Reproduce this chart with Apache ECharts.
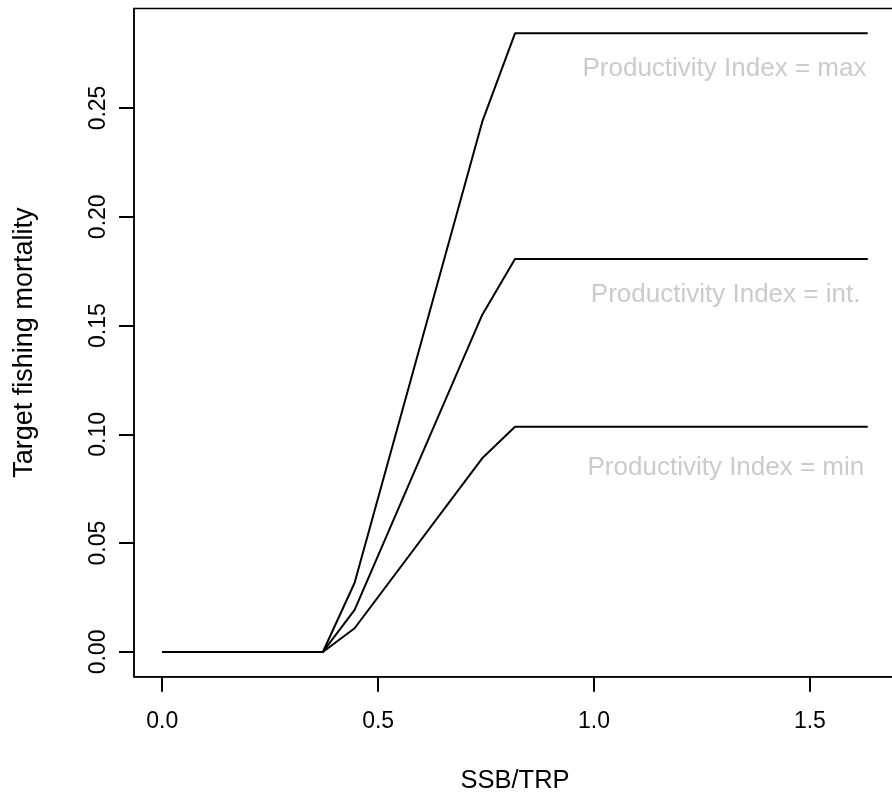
<!DOCTYPE html>
<html lang="en">
<head>
    <meta charset="UTF-8">
    <title>Target fishing mortality</title>
    <style>
        html, body { margin: 0; padding: 0; background: #fff; overflow: hidden; }
        #main { width: 896px; height: 801px; }
    </style>
    <script src="https://cdn.jsdelivr.net/npm/echarts@6/dist/echarts.min.js"></script>
</head>
<body>
<div id="main"></div>
<script>
    // SSB/TRP break points shared by the three curves
    var ssb = [0, 0.372, 0.4456, 0.741, 0.817, 1.634];
    // target F for each productivity index
    var fMax = [0, 0, 0.0318, 0.2436, 0.2843, 0.2843];
    var fInt = [0, 0, 0.0193, 0.1549, 0.1806, 0.1806];
    var fMin = [0, 0, 0.0109, 0.0890, 0.1035, 0.1035];

    var xTicks = [0, 0.5, 1.0, 1.5];
    var yTicks = [0, 0.05, 0.10, 0.15, 0.20, 0.25];

    // annotation text and where it sits (data units, right aligned)
    var noteText = ['Productivity Index = max', 'Productivity Index = int.', 'Productivity Index = min'];
    var noteX = [1.632, 1.618, 1.627];
    var noteY = [0.2679, 0.1640, 0.0844];

    function pairs(xs, ys) {
        var out = [];
        for (var i = 0; i < xs.length; i++) out.push([xs[i], ys[i]]);
        return out;
    }

    var font = 'Liberation Sans, Arial, Helvetica, sans-serif';
    var myChart = echarts.init(document.getElementById('main'));

    var lineStyle = { color: '#000', width: 2 };
    var curves = [fMax, fInt, fMin].map(function (ys) {
        return {
            type: 'line',
            data: pairs(ssb, ys),
            symbol: 'none',
            lineStyle: lineStyle,
            silent: true
        };
    });

    var notes = {
        type: 'scatter',
        symbolSize: 1,
        itemStyle: { color: 'rgba(0,0,0,0)' },
        silent: true,
        data: noteText.map(function (t, i) { return { value: [noteX[i], noteY[i]], name: t }; }),
        label: {
            show: true,
            position: [0, 0],
            align: 'right',
            verticalAlign: 'middle',
            formatter: function (p) { return p.name; },
            color: '#bebebe',
            fontFamily: font,
            fontSize: 26
        }
    };

    var axisBlack = { color: '#000', width: 1.5 };
    var tickStyle = { color: '#000', width: 2 };

    var option = {
        animation: false,
        grid: {
            left: 134,
            right: 0,
            top: 8.6,
            bottom: 124.3,
            show: true,
            borderColor: '#000',
            borderWidth: 1.5,
            backgroundColor: '#fff'
        },
        xAxis: {
            type: 'value',
            min: -0.06536,
            max: 1.69936,
            name: 'SSB/TRP',
            nameLocation: 'middle',
            nameGap: 91,
            nameTextStyle: { color: '#000', fontFamily: font, fontSize: 25.5 },
            splitLine: { show: false },
            axisLine: { show: true, onZero: false, lineStyle: axisBlack },
            axisTick: {
                show: true,
                inside: false,
                length: 15,
                customValues: xTicks,
                lineStyle: tickStyle
            },
            axisLabel: {
                customValues: xTicks,
                margin: 33,
                color: '#000',
                fontFamily: font,
                fontSize: 23,
                formatter: function (v) { return v.toFixed(1); }
            }
        },
        yAxis: {
            type: 'value',
            min: -0.01137,
            max: 0.29567,
            name: 'Target fishing mortality',
            nameLocation: 'middle',
            nameGap: 96,
            nameRotate: 90,
            nameTextStyle: { color: '#000', fontFamily: font, fontSize: 27 },
            splitLine: { show: false },
            axisLine: { show: true, onZero: false, lineStyle: axisBlack },
            axisTick: {
                show: true,
                inside: false,
                length: 15,
                customValues: yTicks,
                lineStyle: tickStyle
            },
            axisLabel: {
                customValues: yTicks,
                rotate: 90,
                margin: 24,
                color: '#000',
                fontFamily: font,
                fontSize: 23,
                formatter: function (v) { return v.toFixed(2); }
            }
        },
        series: curves.concat([notes])
    };

    myChart.setOption(option);
</script>
</body>
</html>
